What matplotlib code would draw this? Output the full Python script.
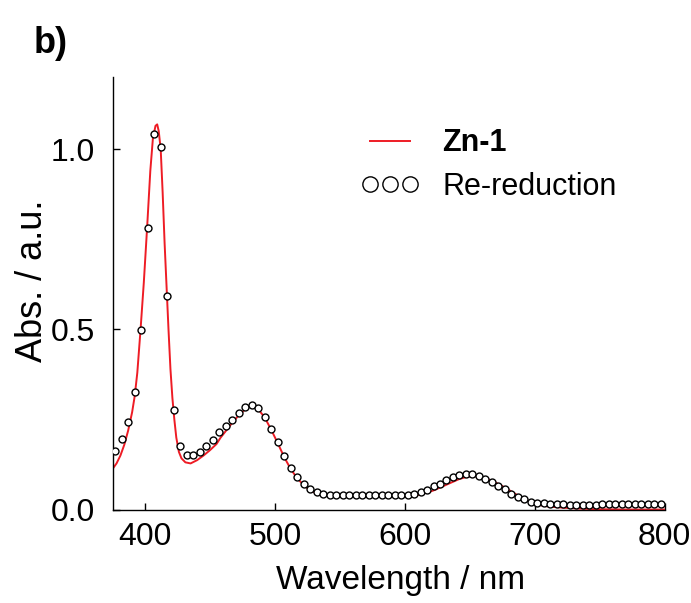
import matplotlib
matplotlib.use("Agg")
import matplotlib.pyplot as plt
import numpy as np

plt.rcParams['font.family'] = ['Liberation Sans', 'DejaVu Sans']

# Zn-1 spectrum (red line)
line_wl = [375, 378, 381, 384, 387, 390, 392, 394, 396.5, 399, 401.5, 404, 406, 408, 409.3,
           410.5, 412, 413.5, 415, 416.5, 418, 419.5, 421, 422.5, 424, 426, 428, 431, 435,
           440, 445, 450, 455, 458, 463, 468, 473, 478, 481, 484, 488, 492, 497, 502, 507,
           512, 517, 522, 527, 532, 537, 545, 560, 580, 600, 607, 612, 617, 622, 627, 632,
           637, 642, 647, 652, 657, 662, 667, 672, 677, 682, 687, 692, 697, 702, 707, 712,
           722, 732, 745, 770, 800]
line_abs = [0.113, 0.128, 0.150, 0.180, 0.220, 0.270, 0.315, 0.380, 0.50, 0.63, 0.78, 0.94,
            1.03, 1.065, 1.069, 1.05, 1.00, 0.88, 0.74, 0.62, 0.50, 0.39, 0.31, 0.25, 0.20,
            0.16, 0.142, 0.131, 0.128, 0.137, 0.150, 0.165, 0.182, 0.199, 0.222, 0.245, 0.265,
            0.281, 0.287, 0.285, 0.274, 0.256, 0.222, 0.185, 0.146, 0.113, 0.087, 0.068, 0.053,
            0.045, 0.040, 0.037, 0.037, 0.037, 0.036, 0.038, 0.042, 0.047, 0.053, 0.061, 0.069,
            0.077, 0.085, 0.090, 0.093, 0.092, 0.087, 0.080, 0.071, 0.061, 0.050, 0.039, 0.029,
            0.021, 0.014, 0.010, 0.008, 0.005, 0.003, 0.001, 0.0, 0.0]

# Re-reduction spectrum (open circles), every 5 nm from 377 nm
circ_wl = list(range(377, 798, 5))
circ_abs = [0.162, 0.196, 0.244, 0.326, 0.497, 0.781, 1.043, 1.005, 0.593, 0.277,
            0.176, 0.151, 0.151, 0.160, 0.176, 0.194, 0.216, 0.233, 0.249, 0.268,
            0.285, 0.290, 0.281, 0.258, 0.224, 0.187, 0.148, 0.115, 0.090, 0.071,
            0.056, 0.048, 0.044, 0.041, 0.040, 0.040, 0.041, 0.041, 0.040, 0.041,
            0.041, 0.041, 0.041, 0.040, 0.039, 0.040, 0.044, 0.049, 0.055, 0.064,
            0.072, 0.081, 0.090, 0.096, 0.100, 0.099, 0.093, 0.085, 0.076, 0.066,
            0.056, 0.044, 0.034, 0.028, 0.022, 0.019, 0.017, 0.015, 0.014, 0.014,
            0.013, 0.013, 0.013, 0.013, 0.013, 0.014, 0.014, 0.014, 0.015, 0.015,
            0.015, 0.015, 0.015, 0.015, 0.015]

x_ticks = [400, 500, 600, 700, 800]
y_ticks = [0.0, 0.5, 1.0]
y_ticklabels = ['0.0', '0.5', '1.0']

fig = plt.figure(figsize=(6.91, 6.03), dpi=100)
ax = fig.add_axes([0.163, 0.155, 0.799, 0.717])

ax.plot(line_wl, line_abs, color='#ee1c25', lw=1.4, label='Zn-1', zorder=2)
ax.plot(circ_wl, circ_abs, ls='none', marker='o', ms=5, mfc='white', mec='black',
        mew=1.0, label='Re-reduction', zorder=3)

ax.set_xlim(375, 800)
ax.set_ylim(0, 1.2)
ax.set_xticks(x_ticks)
ax.set_yticks(y_ticks)
ax.set_yticklabels(y_ticklabels)
ax.spines['top'].set_visible(False)
ax.spines['right'].set_visible(False)
for s in ['left', 'bottom']:
    ax.spines[s].set_linewidth(1.0)
ax.tick_params(direction='in', length=5, width=1.0, labelsize=23)
ax.tick_params(axis='x', pad=9)
ax.tick_params(axis='y', pad=13)

ax.set_xlabel('Wavelength / nm', fontsize=24)
ax.xaxis.set_label_coords(0.522, -0.128)
ax.set_ylabel('Abs. / a.u.', fontsize=26)
ax.yaxis.set_label_coords(-0.114, 0.528)

leg = ax.legend(loc='upper left', bbox_to_anchor=(349/691, 1 - 116/603),
                bbox_transform=fig.transFigure, frameon=False, fontsize=22,
                numpoints=3, markerscale=2.2, handlelength=1.9, handletextpad=0.75,
                labelspacing=0.45, borderaxespad=0)
leg.get_texts()[0].set_fontweight('bold')

fig.text(34/691, 1 - 53/603, 'b)', fontsize=26, fontweight='bold', ha='left', va='baseline')

fig.savefig('out.png', dpi=100)
